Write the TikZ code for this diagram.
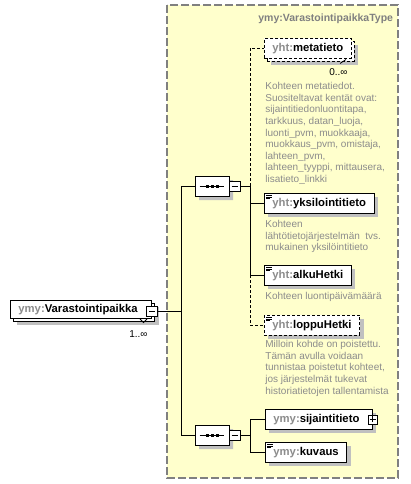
\documentclass[tikz,border=0pt]{standalone}
\usepackage{fontspec}
\setmainfont{Liberation Sans}
\usetikzlibrary{shapes.misc,shadows}
\definecolor{typefill}{HTML}{FFFFCC}
\definecolor{framegray}{HTML}{808080}
\definecolor{shade}{HTML}{C0C0C0}
\definecolor{note}{HTML}{8C8C8C}
\tikzstyle{el}=[draw,fill=white,inner ysep=0,inner xsep=8,minimum height=20,anchor=north west,font=\bfseries\fontsize{11.3}{13}\selectfont]
\tikzstyle{shd}=[drop shadow={shadow xshift=4pt,shadow yshift=-4pt,fill=shade,opacity=1}]
\tikzstyle{opt}=[dash pattern=on 3pt off 2pt]
\tikzstyle{seq}=[draw,fill=white,chamfered rectangle,chamfered rectangle xsep=5pt,chamfered rectangle ysep=5pt,minimum width=34,minimum height=20,inner sep=0,shd]
\tikzstyle{box}=[draw,fill=white,minimum width=11,minimum height=10,inner sep=0,line width=0.8]
\tikzstyle{desc}=[anchor=north west,align=left,inner sep=0,text=note,font=\fontsize{10}{11.6}\selectfont]
\tikzstyle{mult}=[anchor=east,inner sep=0,font=\fontsize{10}{12}\selectfont]
\newcommand{\qname}[2]{{\color{note}#1:}#2}
\newcommand{\texticon}[1]{\foreach \k/\w in {0/6,1/6,2/4} \draw[line width=0.6] ([shift={(2,{2.2+1.7*\k})}]#1.north west) -- +(\w,0);}
\newcommand{\seqmark}[1]{\draw ([xshift=5]#1.west) -- ([xshift=-5]#1.east);
  \foreach \d in {-5,0,5} \fill ([xshift=\d]#1.center) +(-1.5,-1.5) rectangle +(1.5,1.5);}
\newcommand{\collapsemark}[1]{\draw ([xshift=-3]#1.center) -- ([xshift=3]#1.center);}
\newcommand{\expandmark}[1]{\draw ([xshift=-3]#1.center) -- ([xshift=3]#1.center) ([yshift=-3]#1.center) -- ([yshift=3]#1.center);}

\begin{document}
\begin{tikzpicture}[x=1pt,y=-1pt,line width=0.8pt]
\useasboundingbox (0,0) rectangle (410,484);

% complex type frame
\draw[framegray,line width=1.2,dash pattern=on 8pt off 3pt,fill=typefill] (167,5) rectangle (398,478);
\node[anchor=west,inner sep=0,text=framegray,font=\bfseries\fontsize{10.5}{12}\selectfont] (title) at (258,19) {ymy:VarastointipaikkaType};

% root element
\node[el,minimum height=18,shd] (rootback) at (13,303) {\phantom{\qname{ymy}{Varastointipaikka}}\hspace*{6pt}};
\node[el,minimum height=18] (root) at (10,300) {\qname{ymy}{Varastointipaikka}\hspace*{6pt}};
\node[box] (rootm) at (152,311) {};
\collapsemark{rootm}
\draw (140,319) -- (143.5,322.5) -- (147,319);
\node[mult] (rootmult) at (148,334) {1..∞};

% sequences
\node[seq] (seq1) at (212,186) {};
\seqmark{seq1}
\node[box] (m1) at (234.5,186) {};
\collapsemark{m1}
\node[seq] (seq2) at (212,435) {};
\seqmark{seq2}
\node[box] (m2) at (234.5,435) {};
\collapsemark{m2}

\coordinate (j0) at (181,311);
\coordinate (j1) at (250,186);
\coordinate (j2) at (250,435);

% child elements
\node[el,opt,shd] (metaback) at (267,41) {\phantom{\qname{yht}{metatieto}}};
\node[el,opt] (meta) at (264,38) {\qname{yht}{metatieto}};
\draw (340,63.5) -- (346,59.5);
\node[mult] (metamult) at (348,72) {0..∞};
\node[desc] (metadesc) at (265,82) {Kohteen metatiedot.\\Suositeltavat kentät ovat:\\sijaintitiedonluontitapa,\\tarkkuus, datan\_luoja,\\luonti\_pvm, muokkaaja,\\muokkaus\_pvm, omistaja,\\lahteen\_pvm,\\lahteen\_tyyppi, mittausera,\\lisatieto\_linkki};

\node[el,shd] (yks) at (264,193) {\qname{yht}{yksilointitieto}};
\texticon{yks}
\node[desc] (yksdesc) at (265,220) {Kohteen\\lähtötietojärjestelmän\ \ tvs.\\mukainen yksilöintitieto};

\node[el,shd] (alku) at (264,265) {\qname{yht}{alkuHetki}};
\texticon{alku}
\node[desc] (alkudesc) at (265,292) {Kohteen luontipäivämäärä};

\node[el,opt,shd] (loppu) at (264,315) {\qname{yht}{loppuHetki}};
\texticon{loppu}
\node[desc] (loppudesc) at (265,340) {Milloin kohde on poistettu.\\Tämän avulla voidaan\\tunnistaa poistetut kohteet,\\jos järjestelmät tukevat\\historiatietojen tallentamista};

\node[el,shd] (sij) at (265,409) {\qname{ymy}{sijaintitieto}\hspace*{5pt}};
\node[box,minimum width=9,minimum height=9] (sijp) at (sij.east) {};
\expandmark{sijp}
\node[el,shd] (kuv) at (265,442) {\qname{ymy}{kuvaus}};
\texticon{kuv}

% connectors
\draw
(rootm.east) -- (j0)
(seq1.west) -| (j0)
(seq2.west) -| (j0)
(m1.east) -- (j1)
(j1) |- (yks.west)
(j1) |- (alku.west)
(m2.east) -- (j2)
(j2) |- (sij.west)
(j2) |- (kuv.west)
;
\draw[opt]
(j1) |- (meta.west)
(alku.west -| j1) |- (loppu.west)
;

\end{tikzpicture}
\end{document}
